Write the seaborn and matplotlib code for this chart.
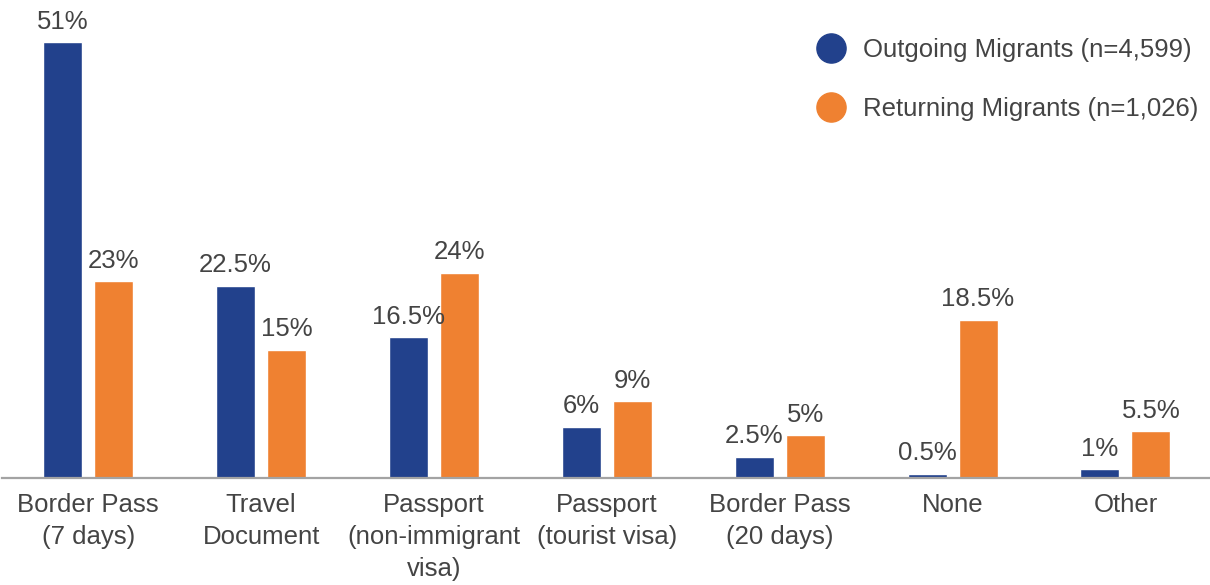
import matplotlib
matplotlib.use("Agg")
import matplotlib.pyplot as plt
from matplotlib.lines import Line2D
import seaborn as sns
import pandas as pd

# Travel document type by migrant group (percent of respondents)
categories = [
    "Border Pass\n(7 days)",
    "Travel\nDocument",
    "Passport\n(non-immigrant\nvisa)",
    "Passport\n(tourist visa)",
    "Border Pass\n(20 days)",
    "None",
    "Other",
]
outgoing = [51, 22.5, 16.5, 6, 2.5, 0.5, 1]
returning = [23, 15, 24, 9, 5, 18.5, 5.5]
series_names = ["Outgoing Migrants (n=4,599)", "Returning Migrants (n=1,026)"]
colors = ["#22418c", "#ef8131"]

df = pd.DataFrame({
    "category": categories * 2,
    "group": [series_names[0]] * len(categories) + [series_names[1]] * len(categories),
    "value": outgoing + returning,
})

sns.set_theme(style="white")
plt.rcParams["font.family"] = ["Liberation Sans", "DejaVu Sans"]
text_color = "#444444"
fs = 18.5

fig = plt.figure(figsize=(12.1, 5.85), dpi=100)
ax = fig.add_axes([0.0015, 0.183, 1.0, 0.817])

sns.barplot(
    data=df, x="category", y="value", hue="group",
    palette=colors, width=0.59, gap=0.235, legend=False, ax=ax,
    saturation=1, order=categories, hue_order=series_names,
)

for cont in ax.containers:
    ax.bar_label(cont, labels=[f"{v:g}%" for v in cont.datavalues],
                 padding=6, fontsize=fs, color=text_color)

ax.set_xlim(-0.5, 6.5)
ax.set_ylim(0, 55.9)
ax.set_xlabel("")
ax.set_ylabel("")
ax.set_yticks([])
ax.tick_params(axis="x", length=0, pad=11, labelsize=fs, labelcolor=text_color)
for lbl in ax.get_xticklabels():
    lbl.set_linespacing(1.42)

for side in ["top", "right", "left"]:
    ax.spines[side].set_visible(False)
ax.spines["bottom"].set_color("#a3a3a3")
ax.spines["bottom"].set_linewidth(1.6)

handles = [
    Line2D([], [], marker="o", linestyle="none", markersize=21,
           markerfacecolor=c, markeredgecolor=c)
    for c in colors
]
leg = ax.legend(handles, series_names, loc="upper right",
                bbox_to_anchor=(0.999, 0.953), bbox_transform=fig.transFigure,
                frameon=False, fontsize=fs, labelspacing=1.38,
                handletextpad=0.65, handlelength=1.2, borderaxespad=0)
for t in leg.get_texts():
    t.set_color(text_color)

fig.savefig("out.png", dpi=100, facecolor="white")
